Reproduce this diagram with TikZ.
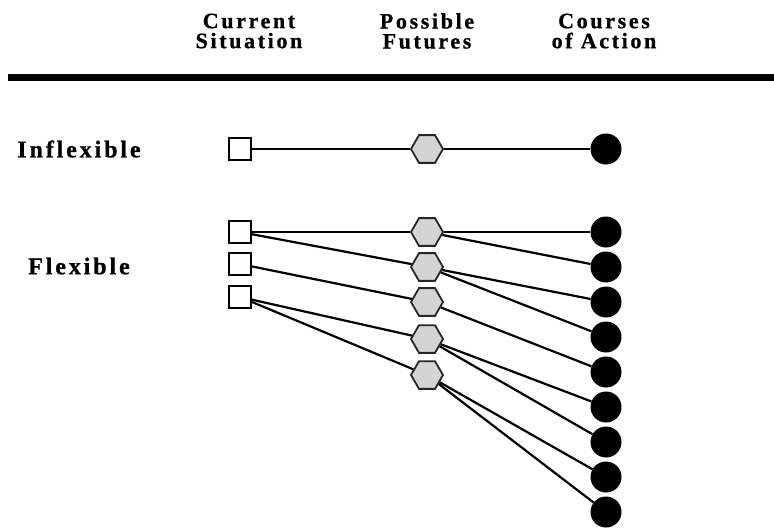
\documentclass[tikz,border=0pt]{standalone}
\usepackage{fontspec}
\setmainfont{Liberation Serif}
\newfontfamily\spacedfont[LetterSpace=12,BoldFeatures={FakeBold=0.8}]{Liberation Serif}
\usetikzlibrary{shapes.geometric}

\begin{document}
\begin{tikzpicture}[x=1pt,y=-1pt,
    situation/.style={draw,line width=2pt,fill=white,minimum size=22pt,inner sep=0pt},
    future/.style={draw=black!85,line width=1.8pt,fill=black!17,regular polygon,regular polygon sides=6,minimum size=32pt,inner sep=0pt},
    action/.style={circle,fill=black,minimum size=31pt,inner sep=0pt},
    head/.style={font=\spacedfont\bfseries\fontsize{22}{20}\selectfont,align=center},
    rowlabel/.style={font=\spacedfont\bfseries\fontsize{24}{26}\selectfont}]
    \useasboundingbox (0,0) rectangle (774,528);

    \node[head] (cur) at (249,31) {Current\\Situation};
    \node[head] (pos) at (427,31) {Possible\\Futures};
    \node[head] (crs) at (604,31) {Courses\\of Action};
    \draw[line width=7pt] (8,77) -- (774,77);

    \node[rowlabel] (infl) at (79,149) {Inflexible};
    \node[rowlabel] (flex) at (79,266) {Flexible};

    % inflexible row
    \node[situation] (s0) at (240,149) {};
    \node[future] (f0) at (427,149) {};
    \node[action] (a0) at (606,149) {};
    \draw[line width=1.3pt] (s0) -- (f0) -- (a0);

    % flexible rows
    \foreach \i/\y in {1/232,2/264,3/297}
        \node[situation] (s\i) at (240,\y) {};
    \foreach \i/\y in {1/232,2/267,3/302,4/339,5/375}
        \node[future] (f\i) at (427,\y) {};
    \foreach \i in {1,...,9}
        \node[action] (a\i) at (606,{197+35*\i}) {};

    \foreach \a/\b in {s1/f1,s1/f2,s2/f3,s3/f4,s3/f5,
                       f1/a1,f1/a2,f2/a3,f2/a4,f3/a5,f4/a6,f4/a7,f5/a8,f5/a9}
        \draw[line width=2.2pt] (\a) -- (\b);
\end{tikzpicture}
\end{document}
